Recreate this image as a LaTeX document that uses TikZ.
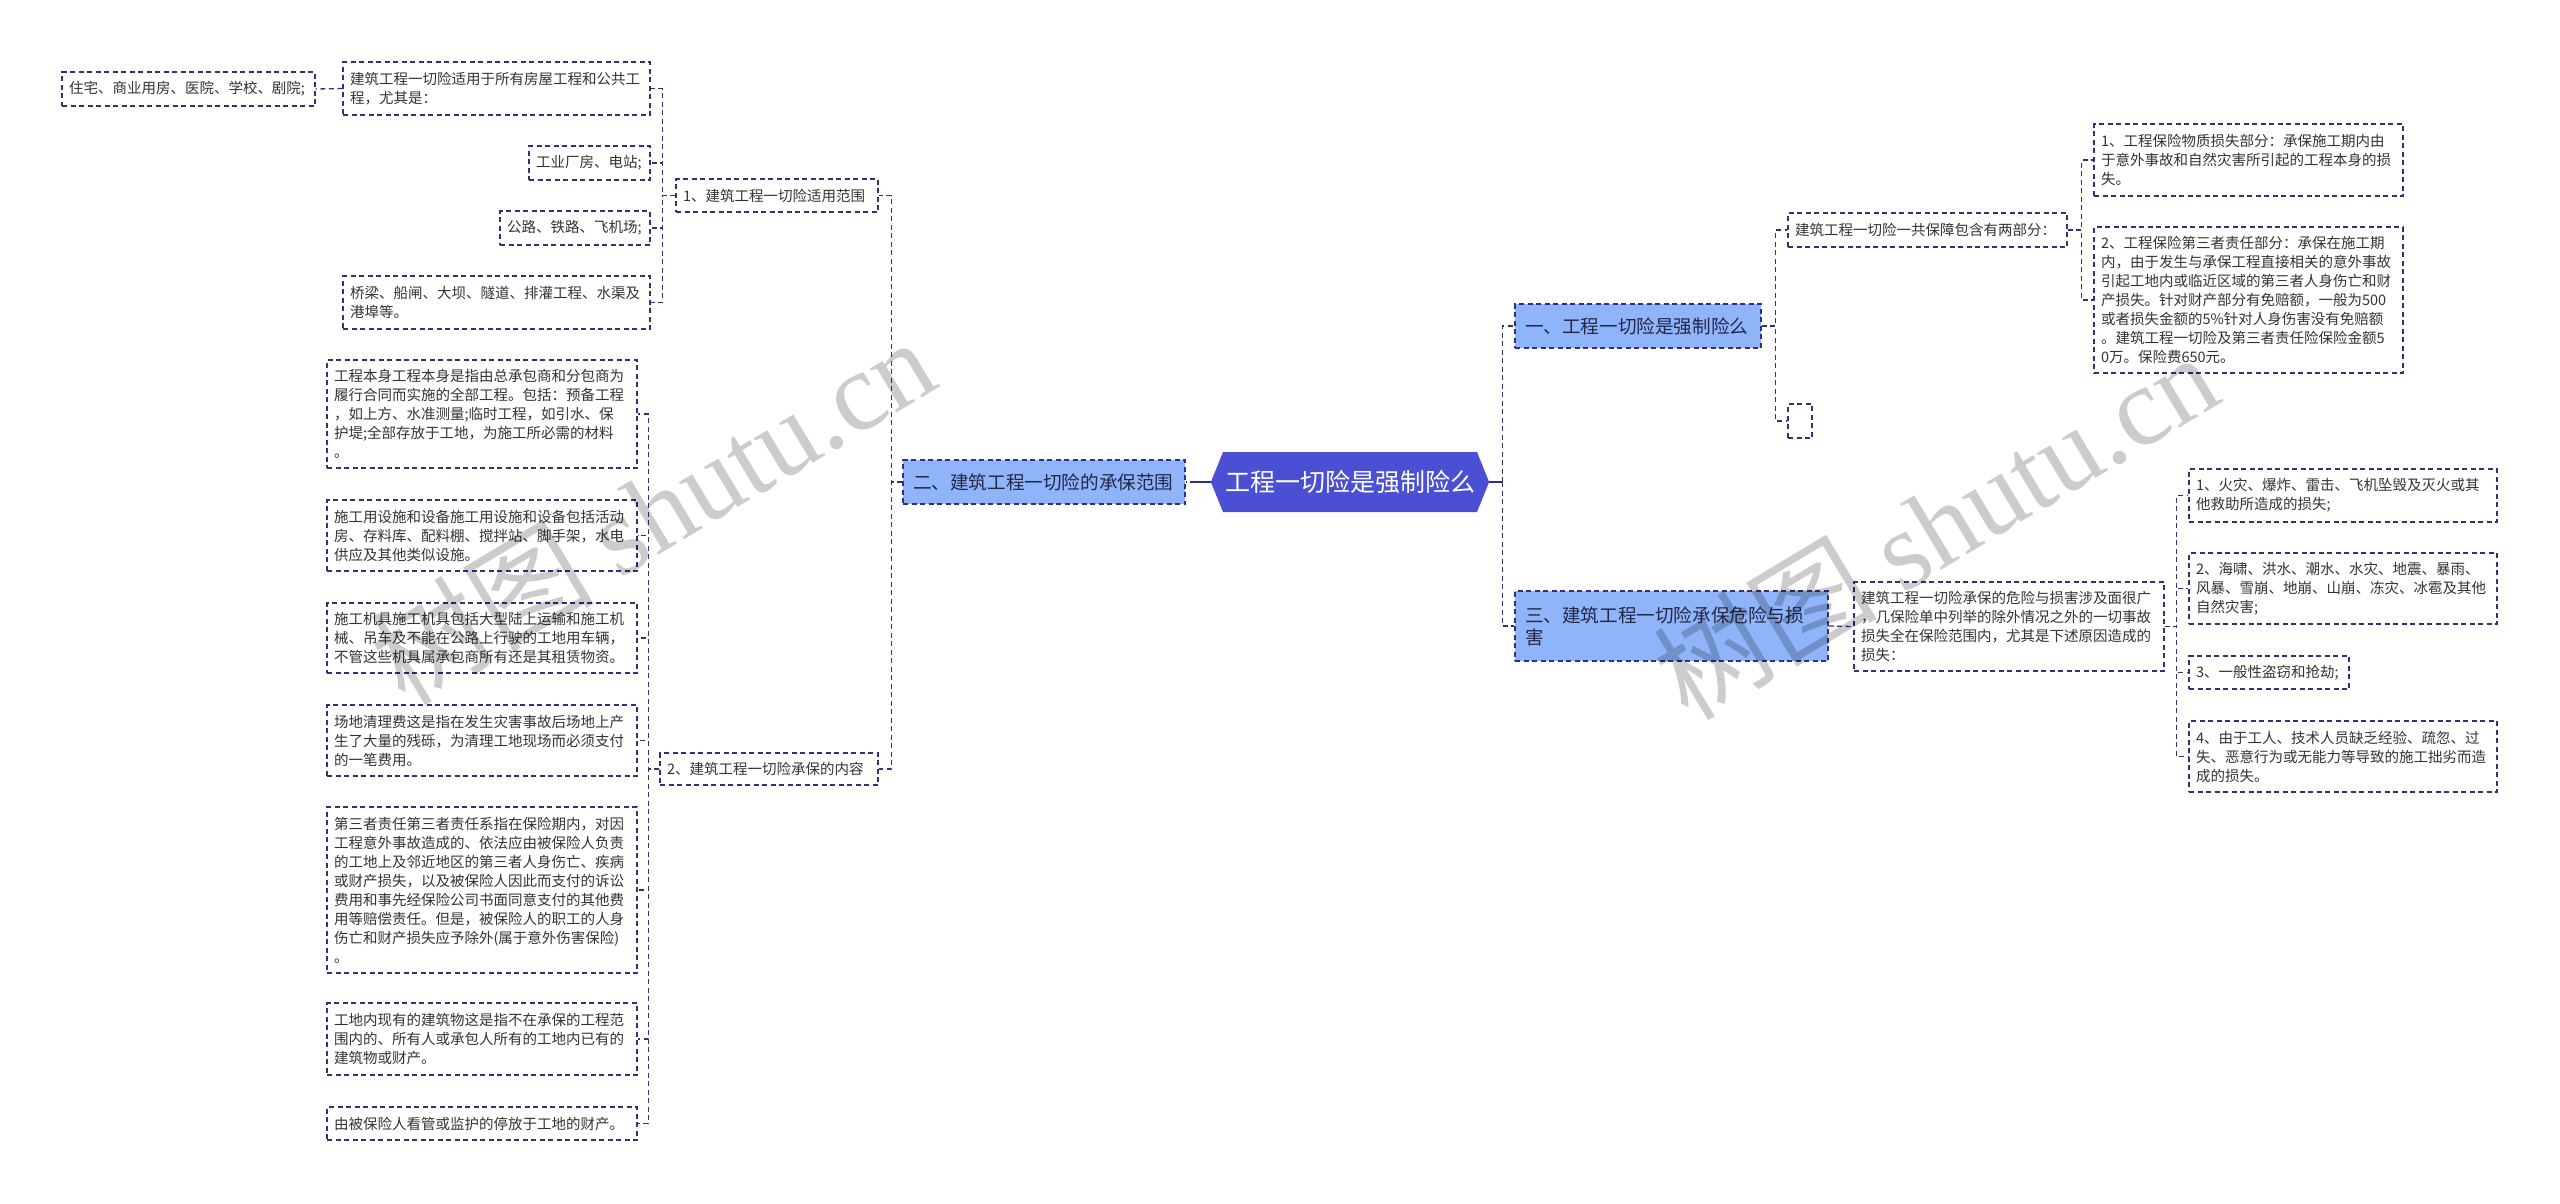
\documentclass[tikz,border=0pt]{standalone}
\usepackage{fontspec}
\setmainfont{Noto Sans CJK SC}
\newfontfamily\wmfont{Liberation Serif}
\usepackage{xcolor}
\usepackage{tikz}
\usetikzlibrary{shapes.symbols}
\definecolor{linkblue}{RGB}{46,48,128}
\definecolor{rootblue}{RGB}{74,79,211}
\definecolor{topicblue}{RGB}{143,180,250}
\definecolor{inkgray}{RGB}{51,51,51}
\definecolor{topicink}{RGB}{36,38,70}

\begin{document}
\begin{tikzpicture}[x=1pt, y=-1pt,
  root/.style={shape=signal, signal to=east and west, signal pointer angle=136,
              fill=rootblue, text=white, font=\fontsize{25}{30}\selectfont,
              minimum height=60pt, inner xsep=2pt},
  topic/.style={draw=linkblue, dash pattern=on 5pt off 3.5pt, line width=1.3pt,
              fill=topicblue, text=topicink, align=left, inner xsep=10pt,
              font=\fontsize{18.6}{22}\selectfont},
  leaf/.style={draw=linkblue, dash pattern=on 5pt off 3.5pt, line width=1.3pt,
              fill=white, text=inkgray, align=left, inner xsep=7pt, inner ysep=4pt,
              font=\fontsize{14.5}{19}\selectfont},
  link/.style={draw=linkblue, dash pattern=on 5pt off 3.5pt, line width=1.3pt},
  rootlink/.style={draw=linkblue, line width=1.6pt},
  watermark/.style={rotate=31, text=black, opacity=0.2, font=\fontsize{112}{120}\selectfont},
]
  \useasboundingbox (0,0) rectangle (2560,1203);

  % Root
  \node[root] (root) at (1350,482) {工程一切险是强制险么};

  % Left branch
  \node[topic, text width=262, minimum height=44] (scopemain) at (1044,482) {二、建筑工程一切险的承保范围};
  \node[leaf, text width=188, minimum height=33] (scope) at (777,195.5) {1、建筑工程一切险适用范围};
  \node[leaf, text width=204, minimum height=32] (content) at (769,769) {2、建筑工程一切险承保的内容};

  \node[leaf, text width=293, minimum height=53] (scope0) at (496.5,88.5) {建筑工程一切险适用于所有房屋工程和公共工\\程，尤其是：};
  \node[leaf, text width=239, minimum height=34] (home) at (188.5,89) {住宅、商业用房、医院、学校、剧院;};
  \node[leaf, text width=107, minimum height=34] (plant) at (589.5,163) {工业厂房、电站;};
  \node[leaf, text width=136, minimum height=34] (road) at (575,228) {公路、铁路、飞机场;};
  \node[leaf, text width=293, minimum height=53] (bridge) at (496.5,302.5) {桥梁、船闸、大坝、隧道、排灌工程、水渠及\\港埠等。};

  \node[leaf, text width=296, minimum height=108] (works) at (482,414) {工程本身工程本身是指由总承包商和分包商为\\履行合同而实施的全部工程。包括：预备工程\\，如上方、水准测量;临时工程，如引水、保\\护堤;全部存放于工地，为施工所必需的材料\\。};
  \node[leaf, text width=296, minimum height=71] (plantfac) at (482,535.5) {施工用设施和设备施工用设施和设备包括活动\\房、存料库、配料棚、搅拌站、脚手架，水电\\供应及其他类似设施。};
  \node[leaf, text width=296, minimum height=70] (machine) at (482,638) {施工机具施工机具包括大型陆上运输和施工机\\械、吊车及不能在公路上行驶的工地用车辆，\\不管这些机具属承包商所有还是其租赁物资。};
  \node[leaf, text width=296, minimum height=71] (clear) at (482,740.5) {场地清理费这是指在发生灾害事故后场地上产\\生了大量的残砾，为清理工地现场而必须支付\\的一笔费用。};
  \node[leaf, text width=296, minimum height=166] (third) at (482,890) {第三者责任第三者责任系指在保险期内，对因\\工程意外事故造成的、依法应由被保险人负责\\的工地上及邻近地区的第三者人身伤亡、疾病\\或财产损失，以及被保险人因此而支付的诉讼\\费用和事先经保险公司书面同意支付的其他费\\用等赔偿责任。但是，被保险人的职工的人身\\伤亡和财产损失应予除外(属于意外伤害保险)\\。};
  \node[leaf, text width=296, minimum height=72] (existing) at (482,1039) {工地内现有的建筑物这是指不在承保的工程范\\围内的、所有人或承包人所有的工地内已有的\\建筑物或财产。};
  \node[leaf, text width=296, minimum height=33] (custody) at (482,1123.5) {由被保险人看管或监护的停放于工地的财产。};

  % Right branch
  \node[topic, text width=226, minimum height=44] (compulsory) at (1638,326) {一、工程一切险是强制险么};
  \node[topic, text width=293, minimum height=70] (hazard) at (1671.5,626) {三、建筑工程一切险承保危险与损\\害};

  \node[leaf, text width=265, minimum height=34] (parts) at (1927.5,230) {建筑工程一切险一共保障包含有两部分：};
  \node[leaf, text width=10, minimum height=34] (blank) at (1800,421) {};
  \node[leaf, text width=295, minimum height=72] (material) at (2248.5,160) {1、工程保险物质损失部分：承保施工期内由\\于意外事故和自然灾害所引起的工程本身的损\\失。};
  \node[leaf, text width=295, minimum height=146] (liability) at (2248.5,300) {2、工程保险第三者责任部分：承保在施工期\\内，由于发生与承保工程直接相关的意外事故\\引起工地内或临近区域的第三者人身伤亡和财\\产损失。针对财产部分有免赔额，一般为500\\或者损失金额的5\%针对人身伤害没有免赔额\\。建筑工程一切险及第三者责任险保险金额5\\0万。保险费650元。};

  \node[leaf, text width=296, minimum height=89] (risks) at (2009,626.5) {建筑工程一切险承保的危险与损害涉及面很广\\，几保险单中列举的除外情况之外的一切事故\\损失全在保险范围内，尤其是下述原因造成的\\损失：};
  \node[leaf, text width=294, minimum height=53] (fire) at (2343,495.5) {1、火灾、爆炸、雷击、飞机坠毁及灭火或其\\他救助所造成的损失;};
  \node[leaf, text width=294, minimum height=71] (flood) at (2343,588.5) {2、海啸、洪水、潮水、水灾、地震、暴雨、\\风暴、雪崩、地崩、山崩、冻灾、冰雹及其他\\自然灾害;};
  \node[leaf, text width=146, minimum height=33] (theft) at (2269,672.5) {3、一般性盗窃和抢劫;};
  \node[leaf, text width=294, minimum height=71] (error) at (2343,756.5) {4、由于工人、技术人员缺乏经验、疏忽、过\\失、恶意行为或无能力等导致的施工拙劣而造\\成的损失。};

  % Root links
  \draw[rootlink] (root.west) -- ++(-16,0) coordinate (lj);
  \draw[link] (lj) -- (scopemain.east);
  \draw[rootlink] (root.east) -- ++(13,0) coordinate (rj);
  \draw[link] (rj) |- (compulsory.west);
  \draw[link] (rj) |- (hazard.west);

  % Left links
  \draw[link] (scopemain.west) -- ++(-11,0) |- (scope.east);
  \draw[link] (scopemain.west) -- ++(-11,0) |- (content.east);
  \draw[link] (scope.west) -- ++(-13,0) |- (scope0.east);
  \draw[link] (scope.west) -- ++(-13,0) |- (plant.east);
  \draw[link] (scope.west) -- ++(-13,0) |- (road.east);
  \draw[link] (scope.west) -- ++(-13,0) |- (bridge.east);
  \draw[link] (scope0.west) -- (home.east);
  \draw[link] (content.west) -- ++(-11,0) |- (works.east);
  \draw[link] (content.west) -- ++(-11,0) |- (plantfac.east);
  \draw[link] (content.west) -- ++(-11,0) |- (machine.east);
  \draw[link] (content.west) -- ++(-11,0) |- (clear.east);
  \draw[link] (content.west) -- ++(-11,0) |- (third.east);
  \draw[link] (content.west) -- ++(-11,0) |- (existing.east);
  \draw[link] (content.west) -- ++(-11,0) |- (custody.east);

  % Right links
  \draw[link] (compulsory.east) -- ++(14,0) |- (parts.west);
  \draw[link] (compulsory.east) -- ++(14,0) |- (blank.west);
  \draw[link] (parts.east) -- ++(14,0) |- (material.west);
  \draw[link] (parts.east) -- ++(14,0) |- (liability.west);
  \draw[link] (hazard.east) -- (risks.west);
  \draw[link] (risks.east) -- ++(12,0) |- (fire.west);
  \draw[link] (risks.east) -- ++(12,0) |- (flood.west);
  \draw[link] (risks.east) -- ++(12,0) |- (theft.west);
  \draw[link] (risks.east) -- ++(12,0) |- (error.west);

  % Watermarks
  \node[watermark] (wmleft) at (652,510) {树图 {\wmfont shutu.cn}};
  \node[watermark] (wmright) at (1935,525) {树图 {\wmfont shutu.cn}};
\end{tikzpicture}
\end{document}
